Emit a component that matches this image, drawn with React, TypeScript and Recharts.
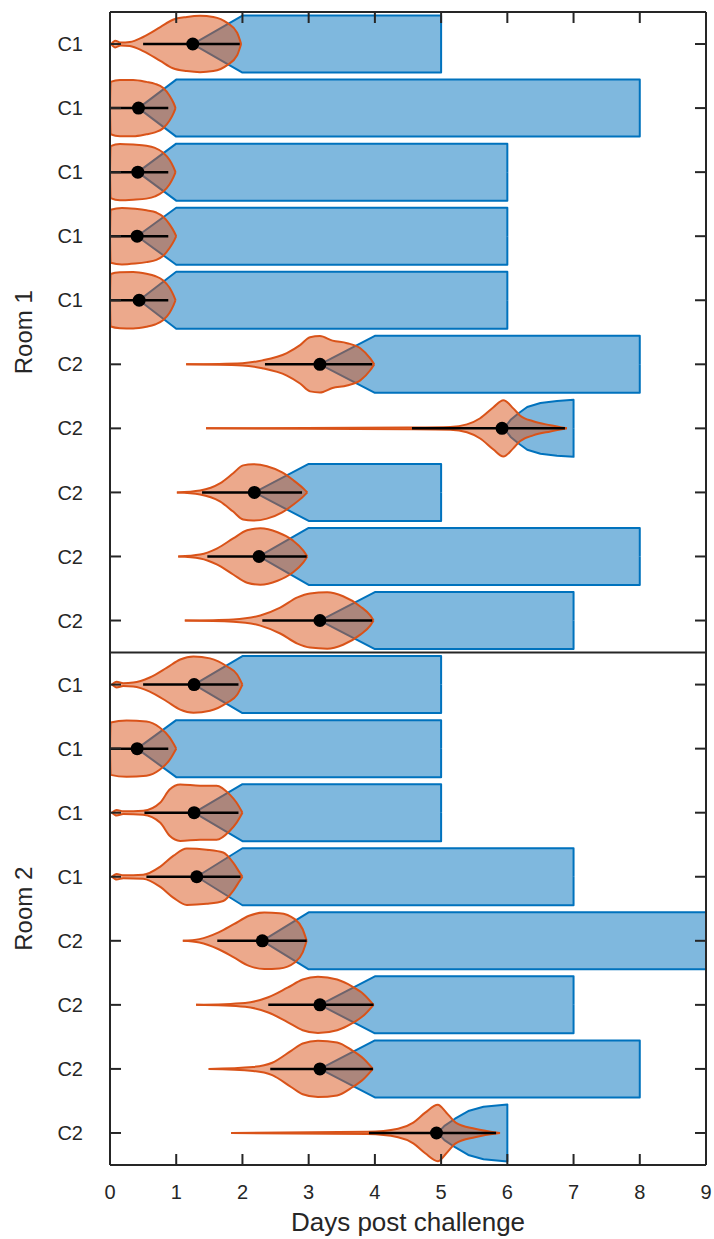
import React from 'react';
import { ComposedChart, Area, Line, Scatter, XAxis, YAxis, ReferenceLine } from 'recharts';

// one entry per row, top to bottom
const rowLabels = ['C1', 'C1', 'C1', 'C1', 'C1', 'C2', 'C2', 'C2', 'C2', 'C2', 'C1', 'C1', 'C1', 'C1', 'C2', 'C2', 'C2', 'C2'];
const medians = [1.25, 0.43, 0.42, 0.41, 0.44, 3.17, 5.92, 2.18, 2.25, 3.17, 1.27, 0.41, 1.27, 1.31, 2.3, 3.17, 3.17, 4.93];
const ciLow = [0.5, 0, 0, 0, 0, 2.34, 4.56, 1.39, 1.47, 2.3, 0.5, 0, 0.52, 0.55, 1.62, 2.39, 2.42, 3.91];
const ciHigh = [1.96, 0.88, 0.88, 0.88, 0.88, 3.96, 6.87, 2.9, 2.97, 3.96, 1.94, 0.88, 1.94, 1.97, 2.97, 3.98, 3.97, 5.83];
const rampEnd = [2, 1, 1, 1, 1, 4, 7, 3, 3, 4, 2, 1, 2, 2, 3, 4, 4, 6];
const lastDay = [5, 8, 6, 6, 6, 8, 7, 5, 8, 7, 5, 5, 5, 7, 9, 7, 8, 6];

// rows where the left edge of the bar is curved: [day, fraction of full height]
const curvedRamps: Record<number, number[][]> = {
  6: [[5.95, 0], [6.05, 0.3], [6.17, 0.53], [6.3, 0.75], [6.5, 0.89], [6.75, 0.96], [7, 1]],
  17: [[4.95, 0], [5.05, 0.25], [5.21, 0.5], [5.41, 0.77], [5.64, 0.92], [6, 1]],
};

// violin outlines: [day, relative density]
const violins: number[][][] = [
  [[0.02, 0], [0.08, 0.12], [0.16, 0.05], [0.3, 0.07], [0.5, 0.25], [0.76, 0.6], [0.95, 0.86], [1.16, 0.96], [1.36, 1], [1.56, 0.96], [1.77, 0.75], [1.92, 0.4], [1.98, 0]],
  [[0, 0], [0.01, 0.93], [0.15, 1], [0.35, 1], [0.55, 0.93], [0.68, 0.86], [0.8, 0.72], [0.9, 0.44], [0.96, 0.18], [0.99, 0]],
  [[0, 0], [0.01, 0.92], [0.15, 1], [0.35, 0.98], [0.55, 0.94], [0.68, 0.86], [0.8, 0.7], [0.9, 0.43], [0.96, 0.17], [0.99, 0]],
  [[0, 0], [0.01, 0.94], [0.18, 1], [0.38, 0.97], [0.55, 0.92], [0.7, 0.84], [0.8, 0.7], [0.9, 0.42], [0.97, 0.15], [1, 0]],
  [[0, 0], [0.01, 0.93], [0.15, 0.99], [0.35, 1], [0.55, 0.94], [0.68, 0.86], [0.8, 0.71], [0.9, 0.44], [0.96, 0.17], [0.99, 0]],
  [[1.15, 0], [2, 0.04], [2.3, 0.14], [2.67, 0.4], [2.87, 0.68], [3.02, 0.96], [3.17, 1], [3.36, 0.84], [3.58, 0.75], [3.78, 0.57], [3.93, 0.21], [3.99, 0]],
  [[1.45, 0], [4.5, 0.03], [5.14, 0.05], [5.39, 0.14], [5.59, 0.36], [5.79, 0.75], [5.94, 1], [6.09, 0.71], [6.19, 0.46], [6.39, 0.25], [6.65, 0.11], [6.9, 0]],
  [[1.01, 0], [1.36, 0.07], [1.66, 0.32], [1.86, 0.68], [2.01, 0.96], [2.16, 1], [2.37, 0.93], [2.6, 0.71], [2.77, 0.43], [2.92, 0.14], [2.98, 0]],
  [[1.03, 0], [1.36, 0.07], [1.62, 0.29], [1.86, 0.64], [2.07, 0.93], [2.27, 1], [2.53, 0.86], [2.76, 0.57], [2.92, 0.21], [2.98, 0]],
  [[1.13, 0], [1.86, 0.04], [2.27, 0.18], [2.57, 0.46], [2.83, 0.82], [3.02, 0.96], [3.28, 1], [3.52, 0.86], [3.78, 0.5], [3.93, 0.18], [3.98, 0]],
  [[0.03, 0], [0.1, 0.1], [0.2, 0.05], [0.35, 0.07], [0.6, 0.25], [0.86, 0.6], [1.06, 0.89], [1.26, 1], [1.51, 0.93], [1.77, 0.64], [1.92, 0.36], [2, 0]],
  [[0, 0], [0.01, 0.93], [0.25, 1], [0.55, 0.96], [0.75, 0.75], [0.9, 0.4], [0.96, 0.17], [1, 0]],
  [[0.03, 0], [0.1, 0.1], [0.2, 0.05], [0.5, 0.07], [0.76, 0.36], [0.9, 0.82], [1.06, 1], [1.36, 0.96], [1.61, 0.96], [1.81, 0.64], [1.91, 0.36], [2, 0]],
  [[0.03, 0], [0.1, 0.1], [0.2, 0.05], [0.5, 0.07], [0.76, 0.36], [0.96, 0.75], [1.16, 1], [1.46, 0.96], [1.71, 0.86], [1.86, 0.5], [1.96, 0.14], [2, 0]],
  [[1.1, 0], [1.35, 0.06], [1.64, 0.3], [1.87, 0.59], [2.1, 0.89], [2.33, 1], [2.56, 0.98], [2.79, 0.77], [2.91, 0.41], [2.97, 0]],
  [[1.3, 0], [2.04, 0.07], [2.39, 0.27], [2.68, 0.61], [2.91, 0.9], [3.14, 1], [3.43, 0.9], [3.66, 0.65], [3.83, 0.38], [3.98, 0]],
  [[1.49, 0], [2.16, 0.07], [2.45, 0.22], [2.74, 0.65], [2.91, 0.9], [3.14, 1], [3.43, 0.94], [3.66, 0.65], [3.83, 0.36], [3.97, 0]],
  [[1.83, 0], [3.89, 0.04], [4.35, 0.15], [4.58, 0.37], [4.76, 0.72], [4.95, 1], [5.08, 0.72], [5.22, 0.37], [5.51, 0.15], [5.89, 0]],
];

const dayTicks = [0, 1, 2, 3, 4, 5, 6, 7, 8, 9];
const roomTicks = [5, 14];
const roomNames = ['Room 1', 'Room 2'];

const BAR_HALF = 0.445;
const VIOLIN_HALF = 0.44;
const INK = '#262626';
const BLUE = '#0072BD';
const ORANGE = '#D95319';

const rowTicks = rowLabels.map((_, i) => i + 0.5);

const barData = rowLabels.map((_, i) => {
  const c = i + 0.5;
  const pts = curvedRamps[i] ? [...curvedRamps[i]] : [[medians[i], 0], [rampEnd[i], 1]];
  if (lastDay[i] > pts[pts.length - 1][0]) pts.push([lastDay[i], 1]);
  pts.push([lastDay[i], 0]);
  return pts.map(([x, f]) => ({ x, r: [c - f * BAR_HALF, c + f * BAR_HALF] }));
});

const violinData = violins.map((v, i) =>
  v.map(([x, d]) => ({ x, r: [i + 0.5 - d * VIOLIN_HALF, i + 0.5 + d * VIOLIN_HALF] }))
);

const ciData = rowLabels.map((_, i) => [
  { x: ciLow[i], y: i + 0.5 },
  { x: ciHigh[i], y: i + 0.5 },
]);

const medianData = medians.map((m, i) => ({ x: m, y: i + 0.5 }));

// anchors so the extra axes (top, right, room labels) get a domain
const anchorData = [{ x: 0, y: 0 }, { x: 9, y: 18 }];

const RoomTick = (props: any) => {
  const { x, y, payload } = props;
  const idx = roomTicks.indexOf(payload.value);
  return (
    <text x={x} y={y} transform={`rotate(-90, ${x}, ${y})`} textAnchor="middle" fontSize={24} fill={INK}>
      {roomNames[idx]}
    </text>
  );
};

const noShape = () => <g />;
const blank = () => '';

export default function App() {
  return (
    <div style={{ position: 'absolute', left: 0, top: 0, width: 714, height: 1239, background: '#fff', fontFamily: '"Liberation Sans", Arial, sans-serif' }}>
      <ComposedChart width={714} height={1239} margin={{ top: 0, right: 0, bottom: 0, left: 0 }}>
        <XAxis
          type="number"
          dataKey="x"
          domain={[0, 9]}
          ticks={dayTicks}
          interval={0}
          allowDataOverflow
          height={74}
          tickSize={-11}
          tickMargin={31}
          axisLine={{ stroke: INK, strokeWidth: 2 }}
          tickLine={{ stroke: INK, strokeWidth: 2 }}
          tick={{ fontSize: 20, fill: INK }}
          label={{ value: 'Days post challenge', position: 'insideBottom', offset: 8, fontSize: 26, fill: INK }}
        />
        <XAxis
          xAxisId="t"
          type="number"
          dataKey="x"
          orientation="top"
          domain={[0, 9]}
          ticks={dayTicks}
          interval={0}
          allowDataOverflow
          height={12}
          tickSize={-11}
          tickFormatter={blank}
          axisLine={{ stroke: INK, strokeWidth: 2 }}
          tickLine={{ stroke: INK, strokeWidth: 2 }}
        />
        <YAxis
          type="number"
          domain={[0, 18]}
          reversed
          allowDataOverflow
          ticks={rowTicks}
          interval={0}
          width={70}
          tickSize={-11}
          tickMargin={38}
          tickFormatter={(v: number) => rowLabels[Math.floor(v)]}
          axisLine={{ stroke: INK, strokeWidth: 2 }}
          tickLine={{ stroke: INK, strokeWidth: 2 }}
          tick={{ fontSize: 20, fill: INK }}
        />
        <YAxis
          yAxisId="rooms"
          type="number"
          domain={[0, 18]}
          reversed
          allowDataOverflow
          ticks={roomTicks}
          interval={0}
          width={40}
          tickSize={0}
          tickMargin={8}
          axisLine={false}
          tickLine={false}
          tick={<RoomTick />}
        />
        <YAxis
          yAxisId="r"
          type="number"
          orientation="right"
          domain={[0, 18]}
          reversed
          allowDataOverflow
          ticks={rowTicks}
          interval={0}
          width={8}
          tickSize={-11}
          tickFormatter={blank}
          axisLine={{ stroke: INK, strokeWidth: 2 }}
          tickLine={{ stroke: INK, strokeWidth: 2 }}
        />

        <Scatter data={anchorData} dataKey="y" xAxisId="t" yAxisId="rooms" shape={noShape} isAnimationActive={false} />
        <Scatter data={anchorData} dataKey="y" xAxisId="t" yAxisId="r" shape={noShape} isAnimationActive={false} />

        {barData.map((d, i) => (
          <Area
            key={`bar-${i}`}
            data={d}
            dataKey="r"
            type="linear"
            fill={BLUE}
            fillOpacity={0.5}
            stroke={BLUE}
            strokeWidth={2}
            strokeLinejoin="round"
            dot={false}
            activeDot={false}
            isAnimationActive={false}
          />
        ))}
        {violinData.map((d, i) => (
          <Area
            key={`vio-${i}`}
            data={d}
            dataKey="r"
            type="monotone"
            fill={ORANGE}
            fillOpacity={0.5}
            stroke={ORANGE}
            strokeWidth={2}
            dot={false}
            activeDot={false}
            isAnimationActive={false}
          />
        ))}
        {ciData.map((d, i) => (
          <Line
            key={`ci-${i}`}
            data={d}
            dataKey="y"
            stroke="#000"
            strokeWidth={2.5}
            dot={false}
            activeDot={false}
            isAnimationActive={false}
          />
        ))}
        <Scatter
          data={medianData}
          dataKey="y"
          isAnimationActive={false}
          shape={(p: any) => <circle cx={p.cx} cy={p.cy} r={6.5} fill="#000" />}
        />
        <ReferenceLine y={10} stroke={INK} strokeWidth={2} />
      </ComposedChart>
    </div>
  );
}
